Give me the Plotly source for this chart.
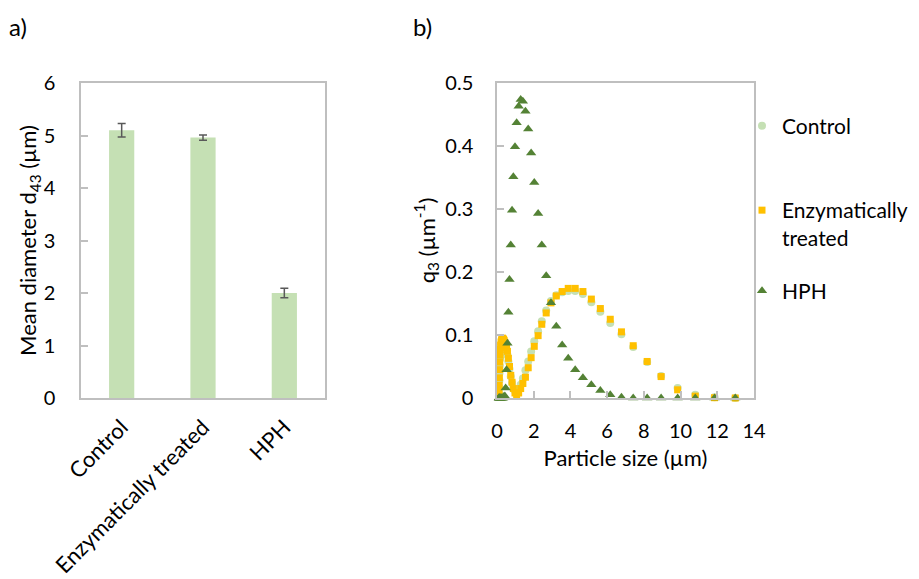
import plotly.graph_objects as go

# ---------------- data ----------------
categories = ["Control", "Enzymatically treated", "HPH"]
mean_d43 = [5.10, 4.96, 2.00]
err_d43 = [0.13, 0.05, 0.09]

particle_size = [0.10, 0.11, 0.12, 0.13, 0.14, 0.15, 0.17, 0.18, 0.20, 0.22,
                 0.25, 0.27, 0.30, 0.33, 0.36, 0.39, 0.43, 0.47, 0.52, 0.57,
                 0.62, 0.68, 0.75, 0.82, 0.89, 0.98, 1.07, 1.18, 1.29, 1.41,
                 1.55, 1.70, 1.86, 2.03, 2.24, 2.44, 2.68, 2.94, 3.23, 3.55,
                 3.88, 4.26, 4.68, 5.14, 5.63, 6.17, 6.78, 7.42, 8.18, 8.94,
                 9.84, 10.8, 11.85, 12.98]

q3_control = [0.003, 0.008, 0.017, 0.028, 0.040, 0.051, 0.062, 0.071, 0.078, 0.083,
              0.086, 0.088, 0.089, 0.088, 0.087, 0.085, 0.082, 0.079, 0.074, 0.068,
              0.058, 0.046, 0.034, 0.024, 0.016, 0.011, 0.010, 0.014, 0.021, 0.031,
              0.044, 0.058, 0.074, 0.090, 0.106, 0.122, 0.139, 0.154, 0.163, 0.168,
              0.170, 0.170, 0.165, 0.152, 0.137, 0.119, 0.101, 0.081, 0.057, 0.035,
              0.016, 0.005, 0.001, 0.0]

q3_enzymatic = [0.004, 0.010, 0.020, 0.032, 0.045, 0.057, 0.068, 0.077, 0.084, 0.089,
                0.092, 0.094, 0.095, 0.094, 0.093, 0.091, 0.088, 0.085, 0.080, 0.074,
                0.063, 0.050, 0.036, 0.025, 0.015, 0.008, 0.005, 0.008, 0.015, 0.023,
                0.033, 0.048, 0.064, 0.082, 0.099, 0.117, 0.135, 0.151, 0.162, 0.169,
                0.174, 0.174, 0.169, 0.157, 0.142, 0.125, 0.105, 0.083, 0.058, 0.034,
                0.013, 0.003, 0.0005, 0.0]

q3_hph = [0.0, 0.0, 0.0, 0.0, 0.0, 0.0, 0.0, 0.0, 0.0, 0.0,
          0.0, 0.0, 0.0, 0.0, 0.002, 0.002, 0.003, 0.016, 0.045, 0.087,
          0.136, 0.188, 0.243, 0.298, 0.351, 0.399, 0.437, 0.463, 0.474, 0.471,
          0.455, 0.427, 0.389, 0.342, 0.293, 0.243, 0.194, 0.151, 0.114, 0.084,
          0.063, 0.045, 0.032, 0.021, 0.012, 0.005, 0.001, 0.0, 0.0, 0.0,
          0.0, 0.0, 0.0, 0.0]

# ---------------- style ----------------
FONT = "Lato"
FS_TICK = 20
FS_TEXT = 22
FS_LEG = 21
AXC = "#BFBFBF"
OFF = 8                      # page body margin
W, H = 919 - OFF, 579 - OFF
def px(x):                   # screen coordinate -> figure coordinate
    return x - OFF
L1, R1, L2, R2 = px(81), px(325), px(497), px(754)
TOP, BOT = px(83), px(398)
ML, MR, MT, MB = L1, W - R2, TOP, H - BOT
pw = W - ML - MR
ph = H - MT - MB

fig = go.Figure()

fig.add_trace(go.Bar(
    x=categories, y=mean_d43, width=0.31,
    marker=dict(color="#C5E0B4", line=dict(width=0)),
    error_y=dict(type="data", array=err_d43, color="#595959", thickness=1.5, width=4),
    showlegend=False, xaxis="x", yaxis="y"))

fig.add_trace(go.Scatter(
    x=particle_size, y=q3_control, mode="markers", name="Control",
    marker=dict(symbol="circle", size=8, color="#C5E0B4"),
    cliponaxis=False, xaxis="x2", yaxis="y2", legend="legend"))
fig.add_trace(go.Scatter(
    x=particle_size, y=q3_enzymatic, mode="markers", name="Enzymatically<br>treated",
    marker=dict(symbol="square", size=7, color="#FFC000"),
    cliponaxis=False, xaxis="x2", yaxis="y2", legend="legend2"))
fig.add_trace(go.Scatter(
    x=particle_size, y=q3_hph, mode="markers", name="HPH",
    marker=dict(symbol="triangle-up", size=9, color="#548235"),
    cliponaxis=False, xaxis="x2", yaxis="y2", legend="legend3"))

axis_common = dict(showline=True, linecolor=AXC, linewidth=1.5, mirror=True,
                   showgrid=False, zeroline=False, automargin=False,
                   tickfont=dict(family=FONT, size=FS_TICK, color="black"))
title_font = dict(family=FONT, size=FS_TEXT, color="black")
leg_font = dict(family=FONT, size=FS_LEG, color="black")

LEGX = px(742) / W
def legy(y):
    return 1 - px(y) / H

fig.update_layout(
    width=W, height=H, template="none",
    paper_bgcolor="white", plot_bgcolor="white",
    margin=dict(l=ML, r=MR, t=MT, b=MB, autoexpand=False),
    font=dict(family=FONT, size=FS_TEXT, color="black"),
    xaxis=dict(domain=[0, (R1 - L1) / pw], type="category", range=[-0.5, 2.5],
               tickangle=-45, ticks="", ticklabelstandoff=6, anchor="y",
               **{**axis_common, "tickfont": dict(family=FONT, size=FS_TEXT, color="black")}),
    yaxis=dict(domain=[0, 1], range=[0, 6], dtick=1, ticks="inside", ticklen=7,
               tickcolor=AXC, tickwidth=1.5, ticklabelstandoff=20, anchor="x",
               title=dict(text="Mean diameter d<sub>43</sub> (µm)", standoff=1, font=title_font),
               **axis_common),
    xaxis2=dict(domain=[(L2 - L1) / pw, 1], range=[0, 14], dtick=2, ticks="inside",
                ticklen=7, tickcolor=AXC, tickwidth=1.5, ticklabelstandoff=14, anchor="y2",
                title=dict(text="Particle size (µm)", standoff=10, font=title_font),
                **axis_common),
    yaxis2=dict(domain=[0, 1], range=[0, 0.5], dtick=0.1, ticks="inside", ticklen=7,
                tickcolor=AXC, tickwidth=1.5, ticklabelstandoff=18, anchor="x2",
                title=dict(text="q<sub>3</sub> (µm<sup>-1</sup>)", standoff=4, font=title_font),
                **axis_common),
    legend=dict(xref="container", yref="container", x=LEGX, y=legy(126),
                xanchor="left", yanchor="middle", bgcolor="rgba(0,0,0,0)", font=leg_font),
    legend2=dict(xref="container", yref="container", x=LEGX, y=legy(224),
                 xanchor="left", yanchor="middle", valign="top", bgcolor="rgba(0,0,0,0)",
                 font=leg_font),
    legend3=dict(xref="container", yref="container", x=LEGX, y=legy(291),
                 xanchor="left", yanchor="middle", bgcolor="rgba(0,0,0,0)", font=leg_font),
    annotations=[
        dict(text="a)", xref="paper", yref="paper", x=(px(18) - ML) / pw, y=(BOT - px(27)) / ph,
             showarrow=False, font=dict(family=FONT, size=24), xanchor="center", yanchor="middle"),
        dict(text="b)", xref="paper", yref="paper", x=(px(422) - ML) / pw, y=(BOT - px(27)) / ph,
             showarrow=False, font=dict(family=FONT, size=24), xanchor="center", yanchor="middle"),
    ],
)

fig.write_html("out.html")
